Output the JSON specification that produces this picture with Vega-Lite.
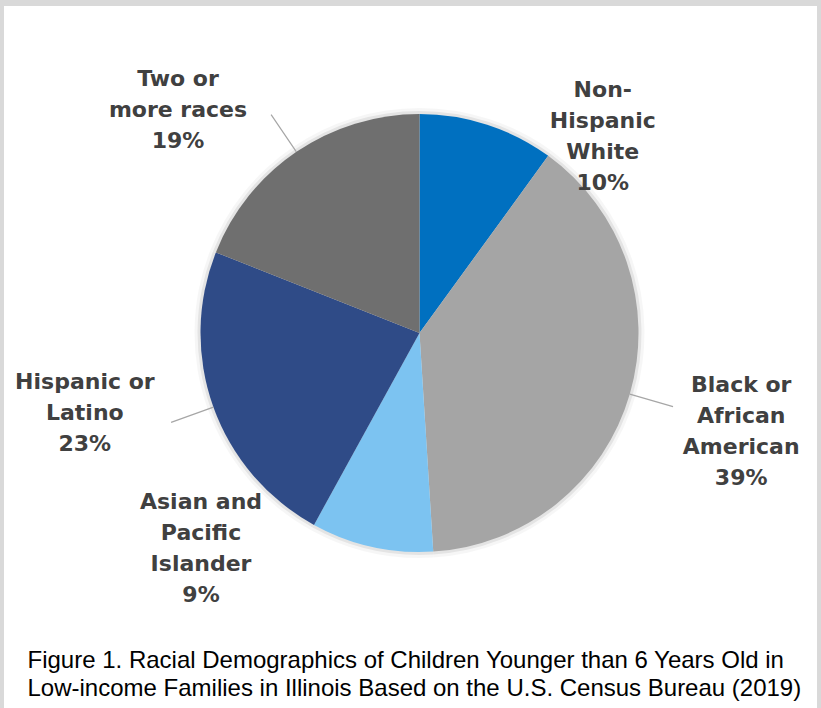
{
  "$schema": "https://vega.github.io/schema/vega-lite/v6.json",
  "width": 813,
  "height": 702,
  "autosize": {"type": "none"},
  "padding": {"left": 4, "top": 6, "right": 4, "bottom": 0},
  "background": "#d9d9d9",
  "config": {"view": {"fill": "white", "stroke": null}},
  "title": {
    "text": ["Figure 1. Racial Demographics of Children Younger than 6 Years Old in", "Low-income Families in Illinois Based on the U.S. Census Bureau (2019)"],
    "orient": "bottom",
    "anchor": "start",
    "frame": "group",
    "offset": -40,
    "dx": 23.5,
    "baseline": "alphabetic",
    "font": "Liberation Sans",
    "fontSize": 24,
    "fontWeight": "normal",
    "lineHeight": 27.5,
    "color": "#000000"
  },
  "data": {
    "values": [
      {"cat": "Non-Hispanic White", "label": "Non-\nHispanic\nWhite\n10%", "value": 10, "rank": 1},
      {"cat": "Black or African American", "label": "Black or\nAfrican\nAmerican\n39%", "value": 39, "rank": 2},
      {"cat": "Asian and Pacific Islander", "label": "Asian and\nPacific\nIslander\n9%", "value": 9, "rank": 3},
      {"cat": "Hispanic or Latino", "label": "Hispanic or\nLatino\n23%", "value": 23, "rank": 4},
      {"cat": "Two or more races", "label": "Two or\nmore races\n19%", "value": 19, "rank": 5}
    ]
  },
  "encoding": {
    "theta": {"field": "value", "type": "quantitative", "stack": true},
    "order": {"field": "rank", "type": "quantitative"},
    "x": {"value": 415.5},
    "y": {"value": 327}
  },
  "layer": [
    {
      "mark": {"type": "arc", "radius": 225, "fill": "#000000", "opacity": 0.035}
    },
    {
      "mark": {"type": "arc", "radius": 222, "fill": "#000000", "opacity": 0.07}
    },
    {
      "mark": {"type": "arc", "radius": 219},
      "encoding": {
        "color": {
          "field": "cat",
          "type": "nominal",
          "scale": {
            "domain": ["Non-Hispanic White", "Black or African American", "Asian and Pacific Islander", "Hispanic or Latino", "Two or more races"],
            "range": ["#0070C0", "#A5A5A5", "#7CC3F1", "#2F4B87", "#6F6F6F"]
          },
          "legend": null
        }
      }
    },
    {
      "mark": {"type": "arc", "radius": 264, "radius2": 219, "padAngle": 3.14159, "fill": null, "stroke": "#A6A6A6", "strokeWidth": 1.2},
      "encoding": {
        "strokeOpacity": {
          "condition": {"test": "datum.cat === 'Black or African American' || datum.cat === 'Hispanic or Latino' || datum.cat === 'Two or more races'", "value": 1},
          "value": 0
        }
      }
    },
    {
      "mark": {"type": "text", "radius": 269.5, "dx": 100, "dy": 13.5, "lineBreak": "\n", "font": "DejaVu Sans", "fontWeight": "bold", "fontSize": 22, "lineHeight": 31, "color": "#404040", "align": "center", "baseline": "middle"},
      "encoding": {"text": {"condition": {"test": "datum.cat === 'Non-Hispanic White'", "field": "label"}, "value": ""}}
    },
    {
      "mark": {"type": "text", "radius": 335, "dx": 0, "dy": -41.5, "lineBreak": "\n", "font": "DejaVu Sans", "fontWeight": "bold", "fontSize": 22, "lineHeight": 31, "color": "#404040", "align": "center", "baseline": "middle"},
      "encoding": {"text": {"condition": {"test": "datum.cat === 'Black or African American'", "field": "label"}, "value": ""}}
    },
    {
      "mark": {"type": "text", "radius": 307, "dx": -151.5, "dy": -130.5, "lineBreak": "\n", "font": "DejaVu Sans", "fontWeight": "bold", "fontSize": 22, "lineHeight": 31, "color": "#404040", "align": "center", "baseline": "middle"},
      "encoding": {"text": {"condition": {"test": "datum.cat === 'Asian and Pacific Islander'", "field": "label"}, "value": ""}}
    },
    {
      "mark": {"type": "text", "radius": 344, "dx": -11, "dy": -68, "lineBreak": "\n", "font": "DejaVu Sans", "fontWeight": "bold", "fontSize": 22, "lineHeight": 31, "color": "#404040", "align": "center", "baseline": "middle"},
      "encoding": {"text": {"condition": {"test": "datum.cat === 'Hispanic or Latino'", "field": "label"}, "value": ""}}
    },
    {
      "mark": {"type": "text", "radius": 330, "dx": -56, "dy": 18.5, "lineBreak": "\n", "font": "DejaVu Sans", "fontWeight": "bold", "fontSize": 22, "lineHeight": 31, "color": "#404040", "align": "center", "baseline": "middle"},
      "encoding": {"text": {"condition": {"test": "datum.cat === 'Two or more races'", "field": "label"}, "value": ""}}
    }
  ]
}
